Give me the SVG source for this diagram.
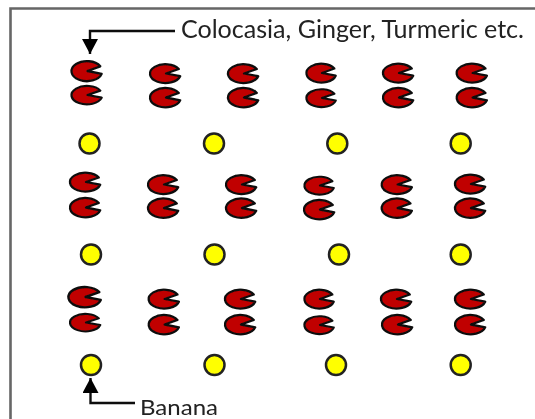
<svg xmlns="http://www.w3.org/2000/svg" width="535" height="419" viewBox="0 0 535 419">
<defs>
<filter id="soft" x="-10%" y="-10%" width="120%" height="120%"><feGaussianBlur stdDeviation="0.5"/></filter>
<path id="p" d="M13.8,-4.6 A15.4,9.7 0 1 0 15.2,2.8 L1,0 Z" class="pac"/>
<marker id="ah" markerUnits="userSpaceOnUse" markerWidth="17" markerHeight="17" refX="15" refY="8" orient="auto"><path d="M0,0 L15,8 L0,16 Z" fill="#000"/></marker>
</defs>
<style>
.pac{fill:#c00000;stroke:#111;stroke-width:2.3;stroke-linejoin:round}
.ban{fill:#ffff00;stroke:#222;stroke-width:2.5}
.lead{fill:none;stroke:#111;stroke-width:2.4}
.lbl{font-family:Lato,"Liberation Sans",sans-serif;fill:#222}
</style>
<rect width="535" height="419" fill="#fff"/>
<g filter="url(#soft)">
<path d="M10.5,419 V8.5 H535" fill="none" stroke="#666" stroke-width="2.6"/>
<g id="connectors">
<path class="lead" d="M175,31 H90 V54" marker-end="url(#ah)"/>
<path class="lead" d="M135,403 H90.5 V378" marker-end="url(#ah)"/>
</g>
<g id="crops">
<use href="#p" transform="translate(86.5,71) scale(1,1.03)"/>
<use href="#p" transform="translate(86.5,95) scale(1,.95)"/>
<use href="#p" transform="translate(165,73.5) scale(1,.97)"/>
<use href="#p" transform="translate(165,97.5)"/>
<use href="#p" transform="translate(243,73.5) scale(1,.97)"/>
<use href="#p" transform="translate(243,97.5)"/>
<use href="#p" transform="translate(321,73) scale(.97,.97)"/>
<use href="#p" transform="translate(321,98) scale(.97,.92)"/>
<use href="#p" transform="translate(398,73) scale(1,.97)"/>
<use href="#p" transform="translate(398,97.5)"/>
<use href="#p" transform="translate(471.7,73) scale(1,.97)"/>
<use href="#p" transform="translate(471.7,97.5)"/>
<use href="#p" transform="translate(85,182) scale(1,.97)"/>
<use href="#p" transform="translate(85,207.5)"/>
<use href="#p" transform="translate(163,184.5) scale(1,.97)"/>
<use href="#p" transform="translate(163,208)"/>
<use href="#p" transform="translate(241,184.5) scale(1,.97)"/>
<use href="#p" transform="translate(241,208)"/>
<use href="#p" transform="translate(319,185.5) scale(.97,.92)"/>
<use href="#p" transform="translate(319,209.5)"/>
<use href="#p" transform="translate(396.7,184.5) scale(1,.97)"/>
<use href="#p" transform="translate(396.7,208)"/>
<use href="#p" transform="translate(470,184) scale(1,.97)"/>
<use href="#p" transform="translate(470,208)"/>
<use href="#p" transform="translate(84.5,297) scale(1.07,1.05)"/>
<use href="#p" transform="translate(85,322.5) scale(1,.9)"/>
<use href="#p" transform="translate(163.7,299) scale(1,.97)"/>
<use href="#p" transform="translate(163.7,324.5)"/>
<use href="#p" transform="translate(240,299) scale(1,.97)"/>
<use href="#p" transform="translate(240,324.5)"/>
<use href="#p" transform="translate(319,299) scale(.97,.97)"/>
<use href="#p" transform="translate(319,325) scale(.97,.92)"/>
<use href="#p" transform="translate(396,299) scale(1,.97)"/>
<use href="#p" transform="translate(397,324.5)"/>
<use href="#p" transform="translate(470,299) scale(1,.97)"/>
<use href="#p" transform="translate(470,324.5)"/>
</g>
<g id="bananas">
<circle class="ban" cx="89.5" cy="143.5" r="10"/>
<circle class="ban" cx="214" cy="143.5" r="10"/>
<circle class="ban" cx="337.3" cy="143.5" r="10"/>
<circle class="ban" cx="460.7" cy="143.5" r="10"/>
<circle class="ban" cx="91" cy="254.5" r="10"/>
<circle class="ban" cx="214.5" cy="254.5" r="10"/>
<circle class="ban" cx="339" cy="254.5" r="10"/>
<circle class="ban" cx="460.7" cy="254.5" r="10"/>
<circle class="ban" cx="91" cy="365" r="10"/>
<circle class="ban" cx="214.5" cy="365" r="10"/>
<circle class="ban" cx="336" cy="365" r="10"/>
<circle class="ban" cx="460.7" cy="365" r="10"/>
</g>
<g id="labels">
<text class="lbl" x="181" y="38" font-size="25" textLength="343" lengthAdjust="spacingAndGlyphs">Colocasia, Ginger, Turmeric etc.</text>
<text class="lbl" x="140" y="414.5" font-size="22" textLength="78" lengthAdjust="spacingAndGlyphs">Banana</text>
</g>
</g>
</svg>
